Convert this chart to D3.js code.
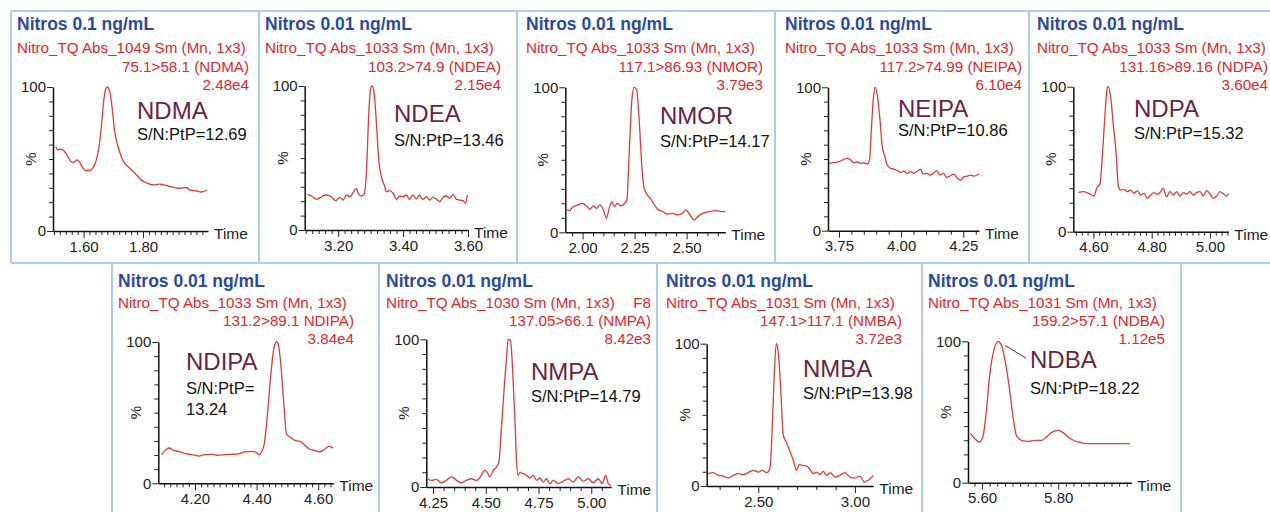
<!DOCTYPE html>
<html>
<head>
<meta charset="utf-8">
<script src="https://cdn.jsdelivr.net/npm/d3@7"></script>
<style>
  html, body { margin: 0; padding: 0; background: #fff; }
  svg { display: block; font-family: "Liberation Sans", Arial, sans-serif; }
</style>
</head>
<body>
<svg id="chart" width="1270" height="512"></svg>
<script>
//////////////////////////////////////////////////////////////
///////////////////////// Data ///////////////////////////////
//////////////////////////////////////////////////////////////

var compounds = ["NDMA", "NDEA", "NMOR", "NEIPA", "NDPA", "NDIPA", "NMPA", "NMBA", "NDBA"];
var concLabels = ["Nitros 0.1 ng/mL", "Nitros 0.01 ng/mL", "Nitros 0.01 ng/mL", "Nitros 0.01 ng/mL", "Nitros 0.01 ng/mL",
                  "Nitros 0.01 ng/mL", "Nitros 0.01 ng/mL", "Nitros 0.01 ng/mL", "Nitros 0.01 ng/mL"];
var scanLabels = ["Nitro_TQ Abs_1049 Sm (Mn, 1x3)", "Nitro_TQ Abs_1033 Sm (Mn, 1x3)", "Nitro_TQ Abs_1033 Sm (Mn, 1x3)",
                  "Nitro_TQ Abs_1033 Sm (Mn, 1x3)", "Nitro_TQ Abs_1033 Sm (Mn, 1x3)", "Nitro_TQ Abs_1033 Sm (Mn, 1x3)",
                  "Nitro_TQ Abs_1030 Sm (Mn, 1x3)", "Nitro_TQ Abs_1031 Sm (Mn, 1x3)", "Nitro_TQ Abs_1031 Sm (Mn, 1x3)"];
var scanSuffix = ["", "", "", "", "", "", "F8", "", ""];
var transitions = ["75.1>58.1 (NDMA)", "103.2>74.9 (NDEA)", "117.1>86.93 (NMOR)", "117.2>74.99 (NEIPA)",
                   "131.16>89.16 (NDPA)", "131.2>89.1 NDIPA)", "137.05>66.1 (NMPA)", "147.1>117.1 (NMBA)", "159.2>57.1 (NDBA)"];
var maxIntensity = ["2.48e4", "2.15e4", "3.79e3", "6.10e4", "3.60e4", "3.84e4", "8.42e3", "3.72e3", "1.12e5"];
var snRatio = ["12.69", "13.46", "14.17", "10.86", "15.32", "13.24", "14.79", "13.98", "18.22"];

// time axis: domain, labelled ticks, minor tick step
var timeDomains = [[1.497, 2.019], [3.097, 3.60], [1.917, 2.686], [3.706, 4.313], [4.531, 5.063],
                   [4.081, 4.649], [4.218, 5.095], [2.233, 3.095], [5.563, 5.992]];
var majorTicks = [[1.60, 1.80], [3.20, 3.40, 3.60], [2.00, 2.25, 2.50], [3.75, 4.00, 4.25], [4.60, 4.80, 5.00],
                  [4.20, 4.40, 4.60], [4.25, 4.50, 4.75, 5.00], [2.50, 3.00], [5.60, 5.80]];
var minorSteps = [0.02, 0.02, 0.05, 0.05, 0.02, 0.02, 0.05, 0.1, 0.02];
var yTicks = [0, 100];

// chromatograms: [time (min), % of max]
var ndma = [[1.506,58.7],[1.513,56.4],[1.525,56.8],[1.536,55.2],[1.547,51.7],[1.558,48.3],[1.566,47.6],[1.578,49.4],
  [1.587,47.6],[1.598,43.6],[1.607,42.0],[1.620,42.0],[1.631,43.6],[1.643,49.4],[1.652,58.7],[1.660,72.6],[1.667,88.9],
  [1.674,98.1],[1.680,100],[1.688,97],[1.697,84],[1.704,70],[1.716,58.7],[1.727,51.7],[1.738,47.1],[1.749,44.8],
  [1.761,42.5],[1.778,39],[1.794,35.5],[1.811,33.6],[1.834,32],[1.856,32.5],[1.879,31.6],[1.901,30.4],[1.924,29.7],
  [1.946,30.2],[1.957,28.5],[1.980,27.8],[1.997,27.1],[2.016,28.5]];
var ndea = [[3.106,24.8],[3.118,23.6],[3.133,21.3],[3.149,23.1],[3.164,24.3],[3.179,23.1],[3.193,20.4],[3.205,22.7],
  [3.215,20.8],[3.226,24.3],[3.236,23.1],[3.246,25.9],[3.256,28.9],[3.262,25.5],[3.270,23.6],[3.280,24.8],[3.287,39.4],
  [3.294,78.7],[3.300,98.4],[3.305,100],[3.311,94.9],[3.318,74],[3.325,48.6],[3.333,37],[3.342,31.2],[3.349,26.6],
  [3.359,27.3],[3.369,25.5],[3.380,21.3],[3.390,23.6],[3.400,23.1],[3.410,24.3],[3.420,21.3],[3.430,24.3],[3.441,21.5],
  [3.451,24.3],[3.461,21.3],[3.472,23.1],[3.482,20.8],[3.492,22.7],[3.503,21.3],[3.513,19.7],[3.523,22.7],[3.533,23.6],
  [3.544,22],[3.554,24.8],[3.564,21.3],[3.574,20.8],[3.585,20.4],[3.592,18.5],[3.598,24.3]];
var nmor = [[1.920,15.9],[1.936,14.9],[1.952,17.2],[1.976,18.9],[2.000,20],[2.019,18.2],[2.035,15.9],[2.051,18.2],
  [2.067,16.6],[2.083,18.9],[2.099,15.9],[2.115,9.7],[2.128,16.6],[2.141,21.1],[2.152,17.7],[2.168,20],[2.184,18.2],
  [2.200,19.5],[2.213,22.3],[2.224,54.5],[2.237,91.3],[2.248,100],[2.260,98.2],[2.272,77.5],[2.285,45.3],[2.296,30.3],
  [2.312,25.7],[2.329,22.8],[2.345,18.9],[2.361,15.9],[2.385,14.3],[2.409,12.6],[2.433,13.1],[2.457,12],[2.481,13.1],
  [2.497,15.4],[2.513,12.6],[2.537,8.5],[2.553,10.8],[2.577,13.1],[2.609,14.3],[2.641,14.9],[2.665,14.3],[2.686,14.3]];
var neipa = [[3.710,47],[3.730,47.4],[3.750,48.1],[3.770,49.8],[3.784,50.5],[3.797,49.3],[3.810,47.4],[3.824,48.1],
  [3.837,47],[3.850,47.4],[3.864,46.5],[3.873,49.3],[3.881,72.6],[3.889,93.5],[3.896,100],[3.904,94.7],[3.915,77.2],
  [3.924,58.6],[3.935,51.6],[3.944,45.8],[3.958,43.5],[3.971,43],[3.985,41.9],[3.998,40.7],[4.011,41.6],[4.025,40],
  [4.038,41.2],[4.052,40],[4.065,41.6],[4.078,42.8],[4.089,39.5],[4.103,40],[4.116,38.8],[4.129,40],[4.143,41.9],
  [4.156,38.8],[4.170,40],[4.183,37.2],[4.196,38.1],[4.212,39.5],[4.226,36.5],[4.239,35.3],[4.253,37.7],[4.266,38.1],
  [4.279,38.8],[4.293,38.1],[4.313,39.5]];
var ndpa = [[4.549,27.1],[4.566,27.6],[4.583,26.4],[4.602,24.6],[4.611,29.9],[4.623,33.3],[4.632,56.3],[4.640,81.6],
  [4.648,99.5],[4.651,100],[4.659,93.1],[4.669,72.4],[4.678,54],[4.686,31],[4.694,28.7],[4.705,29.2],[4.717,27.6],
  [4.728,28.7],[4.739,26.4],[4.751,28.3],[4.762,25.3],[4.774,26.4],[4.785,23],[4.797,25.3],[4.808,26.9],[4.819,25.7],
  [4.831,27.6],[4.840,29.9],[4.851,24.1],[4.863,27.6],[4.874,25.3],[4.886,27.6],[4.897,24.6],[4.909,26.9],[4.920,26],
  [4.931,27.6],[4.943,25.3],[4.954,26.9],[4.966,27.6],[4.977,24.6],[4.989,28.3],[5.000,26],[5.011,23],[5.023,24.6],
  [5.034,27.6],[5.046,26],[5.057,24.6],[5.063,26.4]];
var ndipa = [[4.092,20.3],[4.103,23.3],[4.116,25],[4.130,23.3],[4.146,22.6],[4.168,21],[4.189,20.3],[4.211,19.3],
  [4.232,20.3],[4.254,20.5],[4.276,19.8],[4.297,20.3],[4.319,20.5],[4.341,20.8],[4.362,22.2],[4.384,22.6],[4.400,21.7],
  [4.408,20.3],[4.416,22.2],[4.425,28.1],[4.436,50.5],[4.446,76.4],[4.457,96.5],[4.465,100],[4.470,98.8],[4.479,83.5],
  [4.488,57.5],[4.497,35.1],[4.508,32.8],[4.524,30.4],[4.541,29.7],[4.557,26.9],[4.573,24.1],[4.589,23.3],[4.605,22.2],
  [4.621,24.1],[4.634,26.2],[4.649,25]];
var nmpa = [[4.223,5.6],[4.242,4.5],[4.266,5.2],[4.290,2.9],[4.313,4.5],[4.337,6.8],[4.361,4.5],[4.384,2.9],[4.408,4.5],
  [4.432,5.6],[4.456,4.5],[4.479,7.9],[4.495,11.3],[4.508,9.7],[4.519,6.8],[4.535,11.3],[4.551,13.5],[4.562,16.9],
  [4.574,39.5],[4.587,66.6],[4.598,86.9],[4.606,100],[4.617,99.3],[4.627,80.1],[4.638,46.3],[4.646,16.9],[4.653,7.9],
  [4.661,9.7],[4.677,9],[4.693,7.9],[4.709,6.1],[4.725,7.9],[4.741,4.5],[4.756,6.1],[4.772,3.4],[4.788,5.6],[4.804,2.3],
  [4.820,4.5],[4.843,2.3],[4.867,3.8],[4.891,5.6],[4.915,3.4],[4.938,6.8],[4.962,3.8],[4.986,5.6],[5.009,2.9],
  [5.033,5.6],[5.052,2.3],[5.068,7.9],[5.081,2.3],[5.093,1.1]];
var nmba = [[2.241,8.7],[2.267,9.4],[2.293,7.5],[2.319,7],[2.345,5.6],[2.371,7.5],[2.397,8.7],[2.422,8],[2.448,9.4],
  [2.474,11],[2.500,9.8],[2.521,11],[2.543,9.4],[2.560,12.2],[2.572,40.3],[2.583,80.1],[2.593,100],[2.603,94.1],
  [2.616,68.4],[2.629,35.6],[2.641,32.1],[2.655,27.4],[2.672,21.5],[2.686,15.7],[2.698,11],[2.712,15],[2.729,14.5],
  [2.750,14.1],[2.767,11.7],[2.784,8.7],[2.802,9.8],[2.819,8],[2.836,10.3],[2.853,7.5],[2.871,9.4],[2.897,6.3],
  [2.922,7.5],[2.948,9.4],[2.974,6.3],[3.000,5.6],[3.026,7],[3.048,2.8],[3.069,4],[3.095,7.5]];
var ndba = [[5.570,34.7],[5.581,31.1],[5.594,28.8],[5.603,33.5],[5.611,50],[5.620,75.9],[5.632,94.8],[5.642,100],
  [5.651,97.2],[5.661,85.4],[5.673,64.2],[5.682,45.3],[5.690,33.5],[5.703,30],[5.721,29.2],[5.739,30],[5.756,30],
  [5.769,32.3],[5.782,35.4],[5.800,37],[5.813,35.4],[5.826,32.3],[5.844,29.5],[5.861,28.3],[5.879,27.6],[5.896,27.6],
  [5.923,27.6],[5.958,27.6],[5.988,27.6]];
var traces = [ndma, ndea, nmor, neipa, ndpa, ndipa, nmpa, nmba, ndba];

//////////////////////////////////////////////////////////////
//////////////////////// Layout //////////////////////////////
//////////////////////////////////////////////////////////////

// per panel: left text x, right text edge, plot x range, y of 100% and 0%, name label x / baseline, S/N baseline
var layout = [
  {tx: 17,   tr: 249,  x0: 53,    x1: 208,   y100: 87,    y0: 231,   lx: 137,  ly: 119, sy: 140, row: 0},
  {tx: 265,  tr: 501,  x0: 304.7, x1: 468,   y100: 86,    y0: 230,   lx: 394,  ly: 122, sy: 146, row: 0},
  {tx: 526,  tr: 763,  x0: 565.3, x1: 725.3, y100: 87.3,  y0: 232.3, lx: 660,  ly: 124, sy: 147, row: 0},
  {tx: 785,  tr: 1022, x0: 828,   x1: 979,   y100: 87.3,  y0: 230.7, lx: 898,  ly: 117, sy: 136, row: 0},
  {tx: 1037, tr: 1268, x0: 1073.3,x1: 1228.3,y100: 86.7,  y0: 231.7, lx: 1134, ly: 117, sy: 139, row: 0},
  {tx: 118,  tr: 354,  x0: 158.3, x1: 333.3, y100: 342,   y0: 483.3, lx: 186,  ly: 370, sy: 394, row: 1},
  {tx: 386,  tr: 651,  x0: 426.3, x1: 611.3, y100: 339.3, y0: 487,   lx: 531,  ly: 380, sy: 402, row: 1},
  {tx: 666,  tr: 902,  x0: 706.7, x1: 873.3, y100: 343.7, y0: 486,   lx: 803,  ly: 377, sy: 399, row: 1},
  {tx: 928,  tr: 1165, x0: 968,   x1: 1131.3,y100: 341.3, y0: 482.7, lx: 1030, ly: 368, sy: 394, row: 1}
];
var rowText = [{t: 30, s1: 53, s2: 72, s3: 90}, {t: 287, s1: 308, s2: 326, s3: 344}];

var blue = "#2c4a9c", red = "#e2262c", lineRed = "#df3b3b", maroon = "#6a2446", frame = "#a9d0ea";

var svg = d3.select("#chart");

// panel frames
var frames = svg.append("g").attr("class", "frames")
    .attr("stroke", frame).attr("stroke-width", 2).attr("fill", "none");
[[11, 11, 1272, 11], [11, 263, 1272, 263], [11, 11, 11, 263], [259, 11, 259, 263], [517, 11, 517, 263],
 [775, 11, 775, 263], [1029, 11, 1029, 263], [112, 263, 112, 514], [379, 263, 379, 514], [657, 263, 657, 514],
 [922, 263, 922, 514], [1181, 263, 1181, 514]].forEach(function(l) {
  frames.append("line").attr("x1", l[0]).attr("y1", l[1]).attr("x2", l[2]).attr("y2", l[3]);
});

//////////////////////////////////////////////////////////////
//////////////////////// Panels //////////////////////////////
//////////////////////////////////////////////////////////////

compounds.forEach(function(name, i) {
  var L = layout[i], R = rowText[L.row];
  var g = svg.append("g").attr("class", "panel " + name);

  var x = d3.scaleLinear().domain(timeDomains[i]).range([L.x0, L.x1]);
  var y = d3.scaleLinear().domain([0, 100]).range([L.y0, L.y100]);

  // header texts
  g.append("text").attr("x", L.tx).attr("y", R.t)
      .attr("fill", blue).style("font-size", "17.5px").style("font-weight", "bold").text(concLabels[i]);
  g.append("text").attr("x", L.tx).attr("y", R.s1)
      .attr("fill", red).style("font-size", "15.2px").text(scanLabels[i]);
  if (scanSuffix[i]) {
    g.append("text").attr("x", L.tr).attr("y", R.s1).attr("text-anchor", "end")
        .attr("fill", red).style("font-size", "15.2px").text(scanSuffix[i]);
  }
  g.append("text").attr("x", L.tr).attr("y", R.s2).attr("text-anchor", "end")
      .attr("fill", red).style("font-size", "15.2px").text(transitions[i]);
  g.append("text").attr("x", L.tr).attr("y", R.s3).attr("text-anchor", "end")
      .attr("fill", red).style("font-size", "15.2px").text(maxIntensity[i]);

  // minor ticks
  var step = minorSteps[i], dom = timeDomains[i];
  var minor = d3.range(Math.ceil(dom[0] / step - 1e-6), Math.floor(dom[1] / step + 1e-6) + 1)
      .map(function(k) { return +(k * step).toFixed(3); })
      .filter(function(v) { return majorTicks[i].indexOf(v) < 0; });

  var axisG = g.append("g").attr("transform", "translate(0," + L.y0 + ")");
  axisG.call(d3.axisBottom(x).tickValues(minor).tickSize(4).tickSizeOuter(0).tickFormat(""));
  axisG.select(".domain").remove();
  var axisM = g.append("g").attr("transform", "translate(0," + L.y0 + ")");
  axisM.call(d3.axisBottom(x).tickValues(majorTicks[i]).tickSize(7).tickSizeOuter(0)
      .tickPadding(3).tickFormat(d3.format(".2f")));

  var yAxisG = g.append("g").attr("transform", "translate(" + L.x0 + ",0)");
  yAxisG.call(d3.axisLeft(y).tickValues(d3.range(10, 100, 10)).tickSize(4).tickSizeOuter(0).tickFormat(""));
  yAxisG.select(".domain").remove();
  var yAxisM = g.append("g").attr("transform", "translate(" + L.x0 + ",0)");
  yAxisM.call(d3.axisLeft(y).tickValues(yTicks).tickSize(6).tickSizeOuter(0).tickPadding(1));

  g.selectAll(".tick text").attr("fill", "#222").style("font-size", "15px")
      .style("font-family", "'Liberation Sans', Arial, sans-serif");
  g.selectAll(".domain").attr("stroke", "#111").attr("stroke-width", 1.5);
  g.selectAll(".tick line").attr("stroke", "#222");

  g.append("text").attr("x", L.x1 + 6).attr("y", L.y0 + 8)
      .attr("fill", "#222").style("font-size", "15.5px").text("Time");
  g.append("text")
      .attr("transform", "translate(" + (L.x0 - 17) + "," + y(50) + ") rotate(-90)")
      .attr("text-anchor", "middle").attr("fill", "#222").style("font-size", "15px").text("%");

  // trace
  var line = d3.line()
      .x(function(d) { return x(d[0]); })
      .y(function(d) { return y(d[1]); })
      .curve(d3.curveMonotoneX);
  g.append("path").datum(traces[i])
      .attr("d", line).attr("fill", "none").attr("stroke", lineRed).attr("stroke-width", 1.3);

  // compound name and S/N
  g.append("text").attr("x", L.lx).attr("y", L.ly)
      .attr("fill", maroon).style("font-size", "24px").text(name);
  if (name === "NDIPA") {
    g.append("text").attr("x", L.lx).attr("y", L.sy).attr("fill", "#111").style("font-size", "16.5px").text("S/N:PtP=");
    g.append("text").attr("x", L.lx).attr("y", L.sy + 21).attr("fill", "#111").style("font-size", "16.5px").text(snRatio[i]);
  } else {
    g.append("text").attr("x", L.lx).attr("y", L.sy)
        .attr("fill", "#111").style("font-size", "16.5px").text("S/N:PtP=" + snRatio[i]);
  }

  // NDBA callout from the apex to the label
  if (name === "NDBA") {
    var apex = traces[i].filter(function(d) { return d[1] === 100; })[0];
    g.append("line")
        .attr("x1", x(apex[0]) + 7).attr("y1", y(97))
        .attr("x2", L.lx - 4).attr("y2", L.ly - 10)
        .attr("stroke", maroon).attr("stroke-width", 1);
  }
});
</script>
</body>
</html>
